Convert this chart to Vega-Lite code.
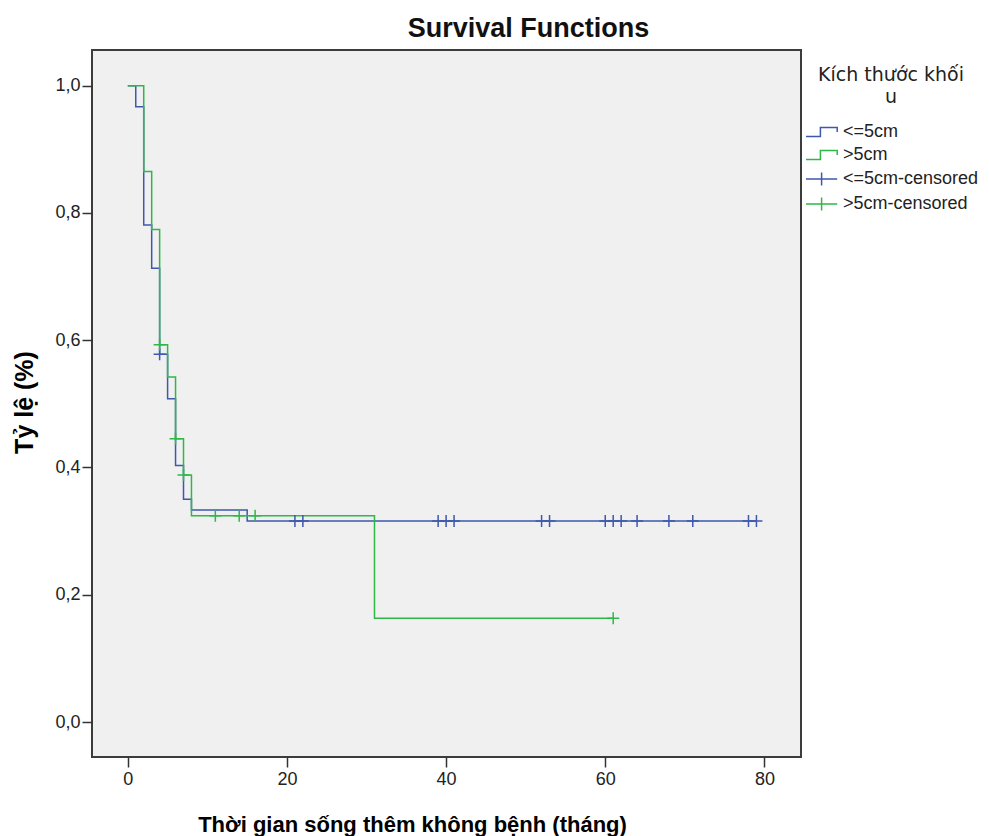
{
  "$schema": "https://vega.github.io/schema/vega-lite/v6.json",
  "width": 709,
  "height": 707,
  "autosize": {"type": "none"},
  "padding": {"left": 92, "top": 50, "right": 188, "bottom": 79},
  "background": "#ffffff",
  "config": {
    "font": "Liberation Sans",
    "view": {"fill": "#f0f0f0", "stroke": "#3c3c3c", "strokeWidth": 2}
  },
  "title": {
    "text": "Survival Functions",
    "fontSize": 27,
    "fontWeight": "bold",
    "font": "Liberation Sans",
    "color": "#111111",
    "anchor": "middle",
    "frame": "group",
    "dx": 82,
    "offset": 7
  },
  "datasets": {
    "lines": [
      {"series": "<=5cm", "t": 0, "s": 1.0},
      {"series": "<=5cm", "t": 1, "s": 0.967},
      {"series": "<=5cm", "t": 2, "s": 0.781},
      {"series": "<=5cm", "t": 3, "s": 0.713},
      {"series": "<=5cm", "t": 4, "s": 0.578},
      {"series": "<=5cm", "t": 5, "s": 0.508},
      {"series": "<=5cm", "t": 6, "s": 0.403},
      {"series": "<=5cm", "t": 7, "s": 0.35},
      {"series": "<=5cm", "t": 8, "s": 0.333},
      {"series": "<=5cm", "t": 15, "s": 0.316},
      {"series": "<=5cm", "t": 79, "s": 0.316},
      {"series": ">5cm", "t": 0, "s": 1.0},
      {"series": ">5cm", "t": 2, "s": 0.865},
      {"series": ">5cm", "t": 3, "s": 0.774},
      {"series": ">5cm", "t": 4, "s": 0.593},
      {"series": ">5cm", "t": 5, "s": 0.542},
      {"series": ">5cm", "t": 6, "s": 0.445},
      {"series": ">5cm", "t": 7, "s": 0.388},
      {"series": ">5cm", "t": 8, "s": 0.324},
      {"series": ">5cm", "t": 31, "s": 0.163},
      {"series": ">5cm", "t": 61, "s": 0.163}
    ],
    "censored": [
      {"series": "<=5cm-censored", "t": 4, "s": 0.578},
      {"series": "<=5cm-censored", "t": 21, "s": 0.316},
      {"series": "<=5cm-censored", "t": 22, "s": 0.316},
      {"series": "<=5cm-censored", "t": 39, "s": 0.316},
      {"series": "<=5cm-censored", "t": 40, "s": 0.316},
      {"series": "<=5cm-censored", "t": 41, "s": 0.316},
      {"series": "<=5cm-censored", "t": 52, "s": 0.316},
      {"series": "<=5cm-censored", "t": 53, "s": 0.316},
      {"series": "<=5cm-censored", "t": 60, "s": 0.316},
      {"series": "<=5cm-censored", "t": 61, "s": 0.316},
      {"series": "<=5cm-censored", "t": 62, "s": 0.316},
      {"series": "<=5cm-censored", "t": 64, "s": 0.316},
      {"series": "<=5cm-censored", "t": 68, "s": 0.316},
      {"series": "<=5cm-censored", "t": 71, "s": 0.316},
      {"series": "<=5cm-censored", "t": 78, "s": 0.316},
      {"series": "<=5cm-censored", "t": 79, "s": 0.316},
      {"series": ">5cm-censored", "t": 4, "s": 0.593},
      {"series": ">5cm-censored", "t": 6, "s": 0.445},
      {"series": ">5cm-censored", "t": 7, "s": 0.388},
      {"series": ">5cm-censored", "t": 11, "s": 0.324},
      {"series": ">5cm-censored", "t": 14, "s": 0.324},
      {"series": ">5cm-censored", "t": 16, "s": 0.324},
      {"series": ">5cm-censored", "t": 61, "s": 0.163}
    ]
  },
  "encoding": {
    "x": {
      "field": "t",
      "type": "quantitative",
      "scale": {"domain": [-4.5, 84.6], "nice": false, "zero": false},
      "axis": {
        "values": [0, 20, 40, 60, 80],
        "title": "Thời gian sống thêm không bệnh (tháng)",
        "grid": false,
        "domain": false,
        "tickSize": 10,
        "tickWidth": 1.5,
        "tickColor": "#333333",
        "labelFontSize": 18,
        "labelColor": "#222222",
        "labelPadding": 3,
        "titleFontSize": 22,
        "titleFontWeight": "bold",
        "titleColor": "#000000",
        "titleX": 320,
        "titleY": 74,
        "titleAlign": "center",
        "titleBaseline": "alphabetic"
      }
    },
    "y": {
      "field": "s",
      "type": "quantitative",
      "scale": {"domain": [-0.055, 1.056], "nice": false, "zero": false},
      "axis": {
        "values": [0, 0.2, 0.4, 0.6, 0.8, 1.0],
        "labelExpr": "replace(format(datum.value, '.1f'), '.', ',')",
        "title": "Tỷ lệ (%)",
        "grid": false,
        "domain": false,
        "tickSize": 10,
        "tickWidth": 1.5,
        "tickColor": "#333333",
        "labelFontSize": 18,
        "labelColor": "#222222",
        "labelPadding": 2,
        "titleFontSize": 25,
        "titleFontWeight": "bold",
        "titleColor": "#000000",
        "titleX": -60,
        "titleY": 352,
        "titleAlign": "center",
        "titleBaseline": "alphabetic"
      }
    },
    "color": {
      "field": "series",
      "type": "nominal",
      "scale": {
        "domain": ["<=5cm", ">5cm", "<=5cm-censored", ">5cm-censored"],
        "range": ["#3E58AC", "#2EB848", "#3E58AC", "#2EB848"]
      },
      "legend": {
        "orient": "none",
        "legendX": 711,
        "legendY": 16,
        "title": ["Kích thước khối", "u"],
        "titleFont": "DejaVu Sans",
        "titleFontSize": 19,
        "titleFontWeight": "normal",
        "titleColor": "#222222",
        "titleAlign": "center",
        "titleAnchor": "middle",
        "titleLineHeight": 22,
        "titlePadding": 16,
        "labelFontSize": 18,
        "labelColor": "#222222",
        "labelOffset": 22,
        "symbolSize": 144,
        "symbolStrokeWidth": 1.5,
        "rowPadding": 5,
        "padding": 0,
        "encode": {
          "symbols": {
            "update": {
              "shape": {"signal": "indexof(datum.value, 'censored') >= 0 ? 'M -1 0 L 4.2 0 M 1.6 -1.1 L 1.6 1.1' : 'M -1 0.75 L 1.4 0.75 L 1.4 -0.75 L 4.2 -0.75 L 4.2 0'"},
              "stroke": {"scale": "color", "field": "value"},
              "fill": {"value": "transparent"},
              "strokeWidth": {"value": 1.5},
              "opacity": {"value": 1}
            }
          }
        }
      }
    }
  },
  "layer": [
    {
      "data": {"name": "lines"},
      "mark": {"type": "line", "interpolate": "step-after", "strokeWidth": 1.5}
    },
    {
      "data": {"name": "censored"},
      "mark": {
        "type": "point",
        "shape": "M -1 0 L 1 0 M 0 -1 L 0 1",
        "filled": false,
        "size": 144,
        "strokeWidth": 1.5,
        "opacity": 1
      }
    }
  ]
}
